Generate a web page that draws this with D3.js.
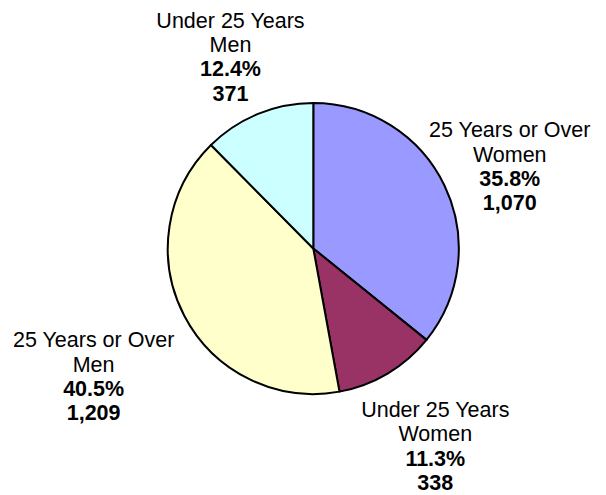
<!DOCTYPE html>
<html>
<head>
<meta charset="utf-8">
<script src="https://cdn.jsdelivr.net/npm/d3@7"></script>
<style>
  body { margin: 0; background: #fff; }
  #chart { width: 606px; height: 495px; }
</style>
</head>
<body>
<div id="chart"></div>
<script>
const groups = ["25 Years or Over", "Under 25 Years", "25 Years or Over", "Under 25 Years"];
const genders = ["Women", "Women", "Men", "Men"];
const counts = [1070, 338, 1209, 371];
const colors = ["#9999FF", "#993366", "#FFFFCC", "#CCFFFF"];

// label placement: distance from centre and small angle nudge (degrees)
const labelRadius = [213, 232, 254, 209];
const labelNudge = [2.8, -1, -2.6, -1];

const width = 606, height = 495;
const cx = 313.3, cy = 248.5, radius = 145.5;
const fontSize = 21.5, lineHeight = 24.3;

const data = counts.map((c, i) => ({ group: groups[i], gender: genders[i], count: c, color: colors[i] }));
const total = d3.sum(counts);

const svg = d3.select("#chart")
  .append("svg")
  .attr("width", width)
  .attr("height", height);

const g = svg.append("g").attr("transform", `translate(${cx},${cy})`);

const pie = d3.pie().value((d) => d.count).sort(null);
const arc = d3.arc().innerRadius(0).outerRadius(radius);
const arcs = pie(data);

g.selectAll("path")
  .data(arcs)
  .enter()
  .append("path")
  .attr("d", arc)
  .attr("fill", (d) => d.data.color)
  .attr("stroke", "#000")
  .attr("stroke-width", 2)
  .attr("stroke-linejoin", "round");

const fmtPct = d3.format(".1%");
const fmtNum = d3.format(",");

const labels = g.selectAll(".label")
  .data(arcs)
  .enter()
  .append("text")
  .attr("class", "label")
  .attr("text-anchor", "middle")
  .style("font-family", "'Liberation Sans', Arial, sans-serif")
  .style("font-size", fontSize + "px")
  .attr("fill", "#000");

labels.each(function (d, i) {
  const a = (d.startAngle + d.endAngle) / 2 + labelNudge[i] * Math.PI / 180;
  const x = labelRadius[i] * Math.sin(a);
  const y = -labelRadius[i] * Math.cos(a);
  const lines = [
    { t: d.data.group, bold: false },
    { t: d.data.gender, bold: false },
    { t: fmtPct(d.data.count / total), bold: true },
    { t: fmtNum(d.data.count), bold: true },
  ];
  const text = d3.select(this);
  lines.forEach((ln, k) => {
    text.append("tspan")
      .attr("x", x)
      .attr("y", y + (k - 1.5) * lineHeight + fontSize * 0.358)
      .style("font-weight", ln.bold ? "bold" : "normal")
      .text(ln.t);
  });
});
</script>
</body>
</html>
